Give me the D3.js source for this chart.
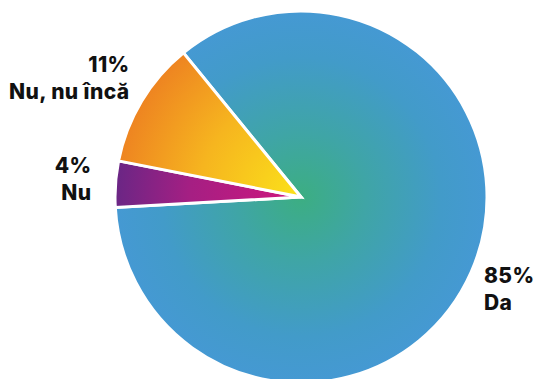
<!DOCTYPE html>
<html>
<head>
<meta charset="utf-8">
<script src="https://cdn.jsdelivr.net/npm/d3@7"></script>
<style>
  body { margin: 0; background: #fff; }
  svg { display: block; }
  .lbl { font-family: Inter, "Open Sans", sans-serif; font-weight: 800; font-size: 21px; letter-spacing: 0.4px; fill: #111; }
</style>
</head>
<body>
<div id="chart"></div>
<script>
// answers, in drawing order (clockwise)
var categories = ["Da", "Nu", "Nu, nu încă"];
var values = [85, 4, 11];
var percentLabels = ["85%", "4%", "11%"];

var svgWidth = 534;
var svgHeight = 379;

var cx = 301, cy = 197;
var radius = 186;
var startDeg = -39.2;

var svg = d3.select("#chart")
  .append("svg")
  .attr("width", svgWidth)
  .attr("height", svgHeight);

var defs = svg.append("defs");

// gradient for each slice, all centred on the pie
var gradStops = [
  [["0%", "#3cae82"], ["35%", "#3fa5a6"], ["75%", "#429bc9"], ["100%", "#4599d3"]],
  [["0%", "#d0177e"], ["60%", "#a51f83"], ["100%", "#6a2685"]],
  [["0%", "#fbe21a"], ["55%", "#f6b51f"], ["100%", "#ee8421"]]
];

gradStops.forEach(function(stops, i) {
  var g = defs.append("radialGradient")
    .attr("id", "grad" + i)
    .attr("gradientUnits", "userSpaceOnUse")
    .attr("cx", 0).attr("cy", 0)
    .attr("r", radius);
  stops.forEach(function(s) {
    g.append("stop").attr("offset", s[0]).attr("stop-color", s[1]);
  });
});

var pie = d3.pie()
  .sort(null)
  .value(d => d)
  .startAngle(startDeg * Math.PI / 180)
  .endAngle(startDeg * Math.PI / 180 + 2 * Math.PI);

var arc = d3.arc()
  .innerRadius(0)
  .outerRadius(radius);

var chartGroup = svg.append("g")
  .attr("transform", `translate(${cx}, ${cy})`);

var arcs = pie(values);

chartGroup.selectAll("path")
  .data(arcs)
  .enter()
  .append("path")
  .attr("d", arc)
  .attr("fill", (d, i) => `url(#grad${i})`)
  .attr("stroke", "#fff")
  .attr("stroke-width", 3)
  .attr("stroke-linejoin", "miter");

// labels sit just outside the rim
var labelPad = [14, 24, 14];
var labelShift = [5, -9, -22];

var labels = chartGroup.selectAll("g.label")
  .data(arcs)
  .enter()
  .append("g")
  .attr("class", "label")
  .attr("transform", function(d, i) {
    var r = radius + labelPad[i];
    var p = d3.arc().innerRadius(r).outerRadius(r).centroid(d);
    return `translate(${p[0]}, ${p[1]})`;
  });

labels.each(function(d, i) {
  var mid = (d.startAngle + d.endAngle) / 2;
  var right = Math.sin(mid) > 0;
  var t = d3.select(this).append("text")
    .attr("class", "lbl")
    .attr("text-anchor", right ? "start" : "end");
  t.append("tspan")
    .attr("x", 0)
    .attr("y", labelShift[i])
    .text(percentLabels[i]);
  t.append("tspan")
    .attr("x", 0)
    .attr("y", labelShift[i] + 27)
    .text(categories[i]);
});
</script>
</body>
</html>
